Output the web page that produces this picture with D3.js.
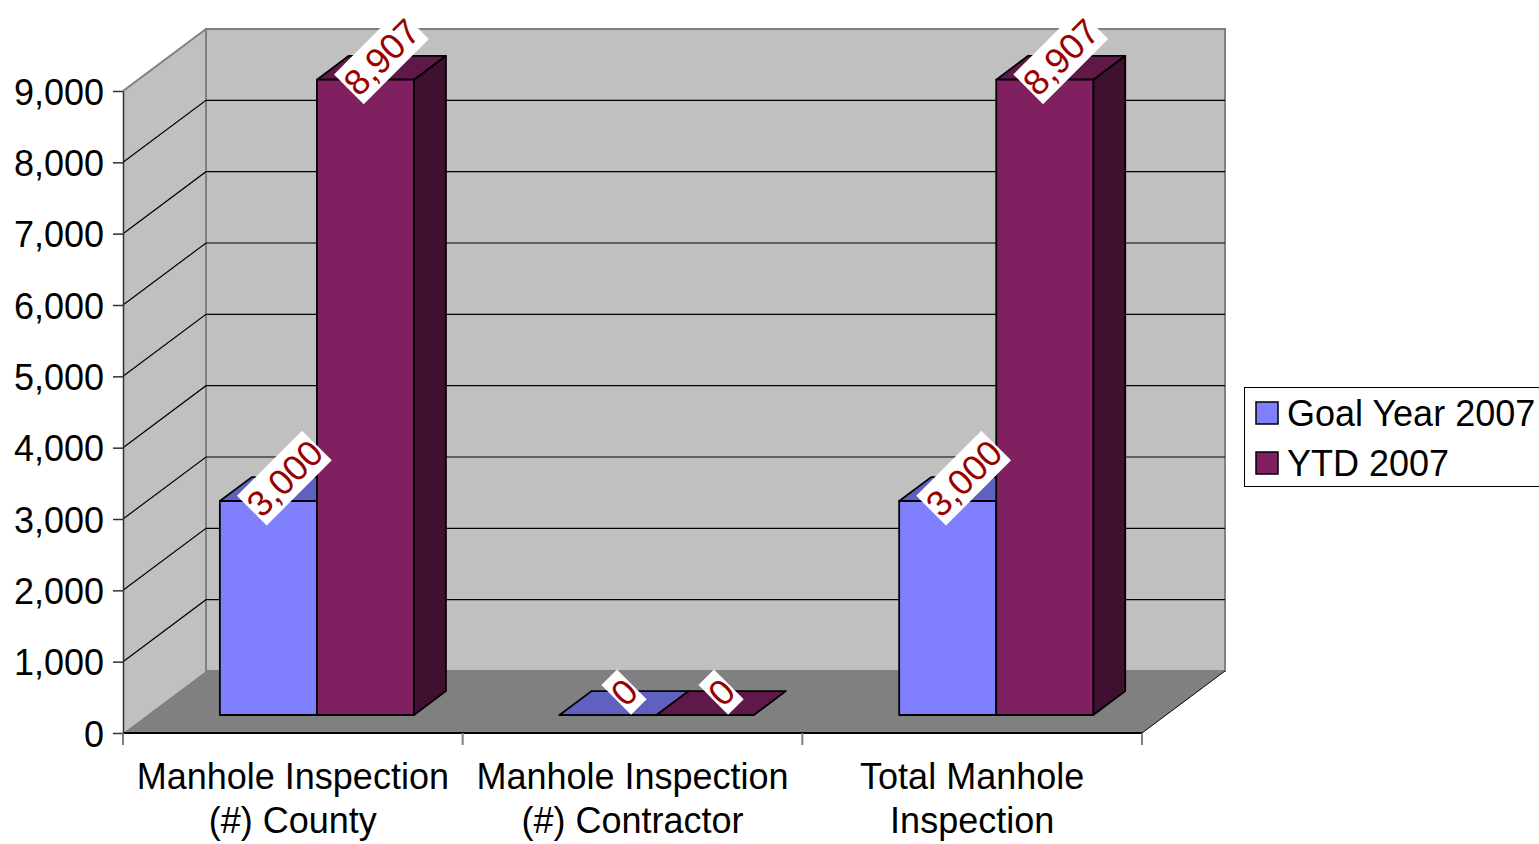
<!DOCTYPE html>
<html>
<head>
<meta charset="utf-8">
<script src="https://cdn.jsdelivr.net/npm/d3@7"></script>
<style>
  body { margin: 0; background: #fff; }
  svg { display: block; font-family: "Liberation Sans", Arial, sans-serif; }
</style>
</head>
<body>
<svg id="chart" width="1539" height="844"></svg>
<script>
// Chart data
const categories = ["Manhole Inspection (#) County", "Manhole Inspection (#) Contractor", "Total Manhole Inspection"];
const categoryLines = [["Manhole Inspection", "(#) County"], ["Manhole Inspection", "(#) Contractor"], ["Total Manhole", "Inspection"]];
const seriesNames = ["Goal Year 2007", "YTD 2007"];
const goalValues = [3000, 0, 3000];
const ytdValues = [8907, 0, 8907];
const yTicks = [0, 1000, 2000, 3000, 4000, 5000, 6000, 7000, 8000, 9000];

const seriesValues = [goalValues, ytdValues];
const colors = [
  { front: "#8080ff", top: "#6060c0", side: "#404080" },
  { front: "#802060", top: "#601848", side: "#401030" }
];

const svg = d3.select("#chart");

// Front plane scales
const x0 = d3.scaleBand().domain(categories).range([123, 1142]);
const y = d3.scaleLinear().domain([0, 9000]).range([733, 91]);

// Oblique depth projection
const DX = 83, DY = -62;
const P = (x, v, z) => [x + DX * z, y(v) + DY * z];
const poly = pts => "M" + pts.map(p => p.join(",")).join("L") + "Z";

// Column geometry: gap width 150%
const barW = x0.bandwidth() / 3.5;
const x1 = d3.scaleBand().domain(seriesNames).range([0, 2 * barW]);
const zFront = 0.29, zBack = 0.675;

const xLeft = x0.range()[0], xRight = x0.range()[1];
const vMax = d3.max(yTicks);

// Walls and floor
svg.append("path")
  .attr("d", poly([P(xLeft, 0, 0), P(xLeft, vMax, 0), P(xLeft, vMax, 1), P(xLeft, 0, 1)]))
  .attr("fill", "#c0c0c0");
svg.append("path")
  .attr("d", poly([P(xLeft, vMax, 1), P(xRight, vMax, 1), P(xRight, 0, 1), P(xLeft, 0, 1)]))
  .attr("fill", "#c0c0c0").attr("stroke", "#808080").attr("stroke-width", 2);
svg.append("line")
  .attr("x1", P(xLeft, vMax, 0)[0]).attr("y1", P(xLeft, vMax, 0)[1])
  .attr("x2", P(xLeft, vMax, 1)[0]).attr("y2", P(xLeft, vMax, 1)[1])
  .attr("stroke", "#808080").attr("stroke-width", 2);
svg.append("path")
  .attr("d", poly([P(xLeft, 0, 0), P(xRight, 0, 0), P(xRight, 0, 1), P(xLeft, 0, 1)]))
  .attr("fill", "#808080");
svg.append("line")
  .attr("x1", P(xRight, 0, 0)[0]).attr("y1", P(xRight, 0, 0)[1])
  .attr("x2", P(xRight, 0, 1)[0]).attr("y2", P(xRight, 0, 1)[1])
  .attr("stroke", "#000").attr("stroke-width", 1);

// Gridlines on side and back walls
const grid = svg.append("g").attr("stroke", "#000").attr("stroke-width", 1.2).attr("fill", "none");
yTicks.filter(v => v > 0 && v < vMax).forEach(v => {
  const a = P(xLeft, v, 0), b = P(xLeft, v, 1), c = P(xRight, v, 1);
  grid.append("path").attr("d", `M${a}L${b}L${c}`);
});

// Axes
const yAxis = svg.append("g")
  .attr("transform", `translate(${xLeft},0)`)
  .call(d3.axisLeft(y).tickValues(yTicks).tickFormat(d3.format(",")).tickSize(10).tickSizeOuter(0).tickPadding(9));
yAxis.select(".domain").attr("stroke", "#303030").attr("stroke-width", 1.5);
yAxis.selectAll(".tick line").attr("stroke", "#303030").attr("stroke-width", 1.5);
yAxis.selectAll(".tick text").attr("font-size", 36).attr("fill", "#000").attr("dy", "0.37em")
  .attr("font-family", "Liberation Sans, Arial, sans-serif");

svg.append("line").attr("x1", xLeft).attr("x2", xRight).attr("y1", y(0)).attr("y2", y(0))
  .attr("stroke", "#000").attr("stroke-width", 2);
const bounds = categories.map(c => x0(c)).concat([xRight]);
svg.append("g").selectAll("line").data(bounds).join("line")
  .attr("x1", d => d).attr("x2", d => d).attr("y1", y(0)).attr("y2", y(0) + 12)
  .attr("stroke", "#808080").attr("stroke-width", 2);

const catLabels = svg.append("g").attr("font-size", 36).attr("text-anchor", "middle").attr("fill", "#000");
categories.forEach((c, i) => {
  const t = catLabels.append("text").attr("x", x0(c) + x0.bandwidth() / 2);
  categoryLines[i].forEach((line, j) => {
    t.append("tspan").attr("x", x0(c) + x0.bandwidth() / 2).attr("y", 789 + j * 44).text(line);
  });
});

// Columns
const bars = svg.append("g").attr("stroke", "#000").attr("stroke-width", 1.8).attr("stroke-linejoin", "round");
const labelSpots = [];
categories.forEach((c, ci) => {
  const gx = x0(c) + (x0.bandwidth() - 2 * barW) / 2;
  seriesNames.forEach((s, si) => {
    const v = seriesValues[si][ci];
    const xl = gx + x1(s), xr = xl + barW;
    const col = colors[si];
    bars.append("path").attr("fill", col.side)
      .attr("d", poly([P(xr, 0, zFront), P(xr, 0, zBack), P(xr, v, zBack), P(xr, v, zFront)]));
    bars.append("path").attr("fill", col.top)
      .attr("d", poly([P(xl, v, zFront), P(xr, v, zFront), P(xr, v, zBack), P(xl, v, zBack)]));
    bars.append("path").attr("fill", col.front)
      .attr("d", poly([P(xl, 0, zFront), P(xr, 0, zFront), P(xr, v, zFront), P(xl, v, zFront)]));
    const tc = P(xl + barW / 2, v, (zFront + zBack) / 2);
    labelSpots.push({ x: tc[0], y: tc[1] - 11, v });
  });
});

// Value labels
const fmt = d3.format(",");
labelSpots.forEach(d => {
  const g = svg.append("g").attr("transform", `translate(${d.x},${d.y}) rotate(-45)`);
  const rect = g.append("rect").attr("fill", "#fff");
  const t = g.append("text").attr("font-size", 36).attr("fill", "#990000")
    .attr("text-anchor", "middle").attr("dy", "0.36em").text(fmt(d.v));
  const w = t.node().getComputedTextLength() + 2;
  rect.attr("x", -w / 2).attr("y", -21).attr("width", w).attr("height", 42);
});

// Legend
const legend = svg.append("g");
legend.append("rect").attr("x", 1244.5).attr("y", 387.5).attr("width", 320).attr("height", 99)
  .attr("fill", "#fff").attr("stroke", "#000").attr("stroke-width", 1);
seriesNames.forEach((s, i) => {
  legend.append("rect").attr("x", 1256).attr("y", 402 + i * 50).attr("width", 22).attr("height", 22)
    .attr("fill", colors[i].front).attr("stroke", "#000").attr("stroke-width", 1.5);
  legend.append("text").attr("x", 1287).attr("y", 426 + i * 50).attr("font-size", 36).attr("fill", "#000").text(s);
});
</script>
</body>
</html>
